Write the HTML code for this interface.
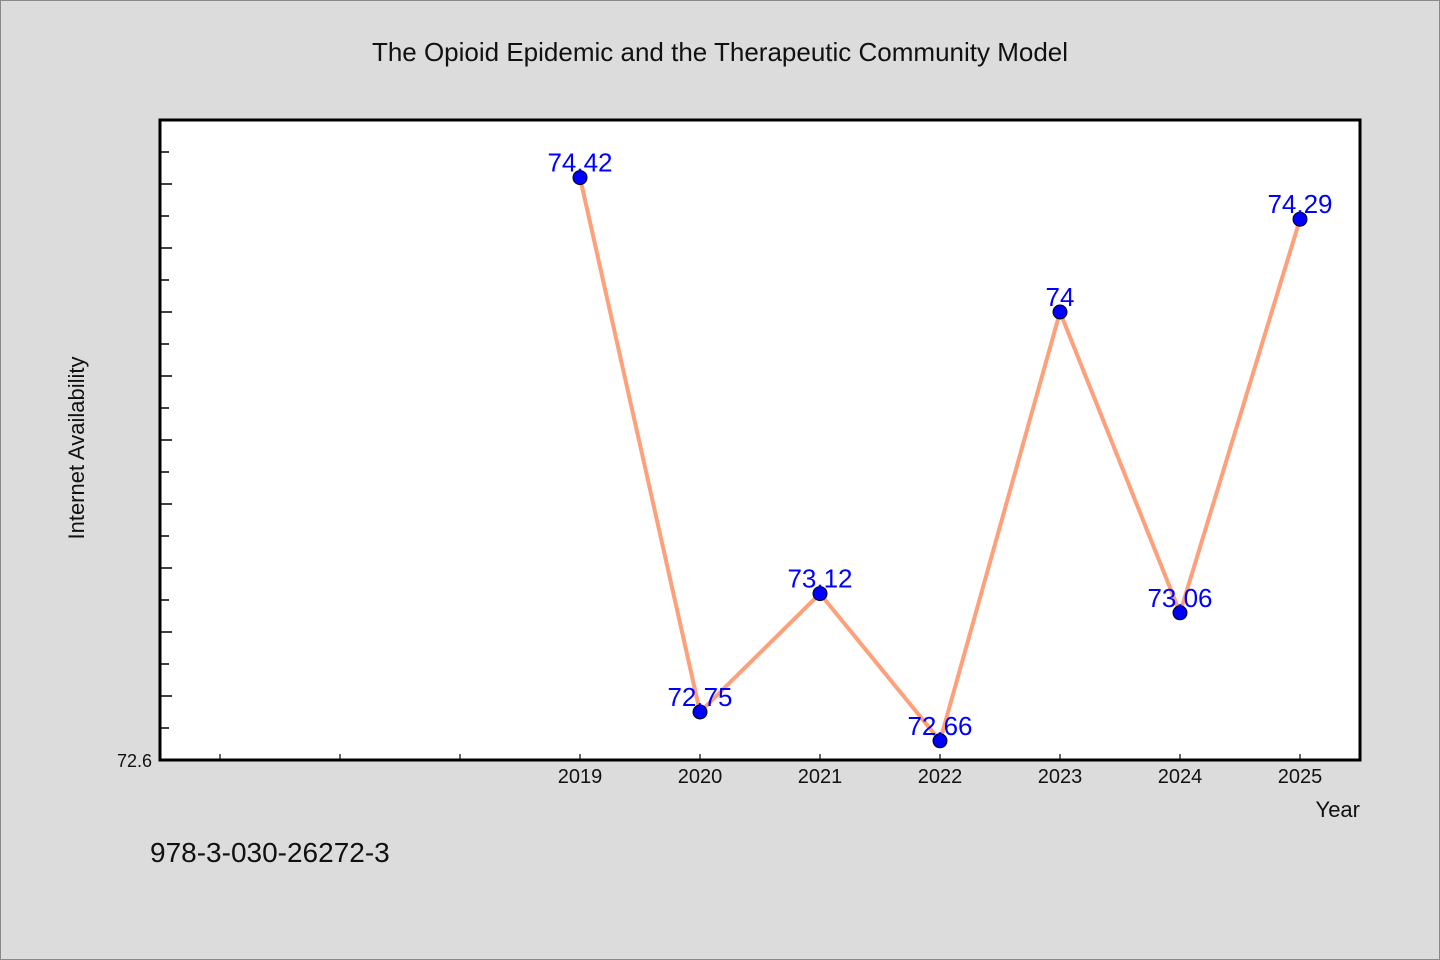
<!DOCTYPE html>
<html><head><meta charset="utf-8"><style>
body{margin:0;background:#dcdcdc;}
svg{display:block;font-family:"WenQuanYi Zen Hei","Liberation Sans",sans-serif;}
</style></head><body>
<svg width="1440" height="960" xmlns="http://www.w3.org/2000/svg">
<rect x="0.5" y="0.5" width="1439" height="959" fill="#dcdcdc" stroke="#888"/>
<text x="720" y="61" font-size="26" text-anchor="middle" fill="#111">The Opioid Epidemic and the Therapeutic Community Model</text>
<rect x="160" y="120" width="1200" height="640" fill="#fff" stroke="#000" stroke-width="3"/>
<g id="ticks"></g>
<g id="marks"></g>
<text transform="translate(84,448) rotate(-90)" font-size="22" text-anchor="middle" fill="#111">Internet Availability</text>
<text x="1360" y="817" font-size="22" text-anchor="end" fill="#111">Year</text>
<text x="150" y="862" font-size="28" fill="#111">978-3-030-26272-3</text>
</svg>
<script>
const years=[2019,2020,2021,2022,2023,2024,2025];
const values=[74.42,72.75,73.12,72.66,74.00,73.06,74.29];
const valueLabels=["74.42","72.75","73.12","72.66","74","73.06","74.29"];
const yTickLabels=["72.6"];
const NS="http://www.w3.org/2000/svg";
const x0=2015.5,x1=2025.5,y0=72.6,y1=74.6;
const X=v=>160+(v-x0)/(x1-x0)*1200;
const Y=v=>760-(v-y0)/(y1-y0)*640;
function mk(t,a,p){const e=document.createElementNS(NS,t);for(const k in a)e.setAttribute(k,a[k]);p.appendChild(e);return e;}
const tg=document.getElementById('ticks'),mg=document.getElementById('marks');
for(let i=0;i<=19;i++){const v=y0+i*0.1;const len=i%2===0?12:9;
 const l=mk('line',{x1:160,x2:160+len,y1:Y(v),y2:Y(v),stroke:'#000','stroke-width':1.5},tg);
 }
const yl=mk('text',{x:152,y:Y(72.6)+7,'font-size':18,'text-anchor':'end',fill:'#111'},tg);
yl.textContent=yTickLabels[0];
for(let yr=2016;yr<=2025;yr++){
 const l=mk('line',{x1:X(yr),x2:X(yr),y1:760,y2:754,stroke:'#000','stroke-width':1.2},tg);
 }
years.forEach(yr=>{const t=mk('text',{x:X(yr),y:783,'font-size':20,'text-anchor':'middle',fill:'#111'},tg);
 t.textContent=yr;});
const pts=years.map((yr,i)=>X(yr)+','+Y(values[i])).join(' ');
const pl=mk('polyline',{points:pts,fill:'none',stroke:'#ffa07a','stroke-width':4,'stroke-linejoin':'round'},mg);

years.forEach((yr,i)=>{
 const c=mk('circle',{cx:X(yr),cy:Y(values[i]),r:7,fill:'#0000ff',stroke:'#000','stroke-width':1},mg);
 
 const t=mk('text',{x:X(yr),y:Y(values[i])-6,'font-size':26,'text-anchor':'middle',fill:'#0000ff'},mg);
 t.textContent=valueLabels[i];
});
</script>
</body></html>
